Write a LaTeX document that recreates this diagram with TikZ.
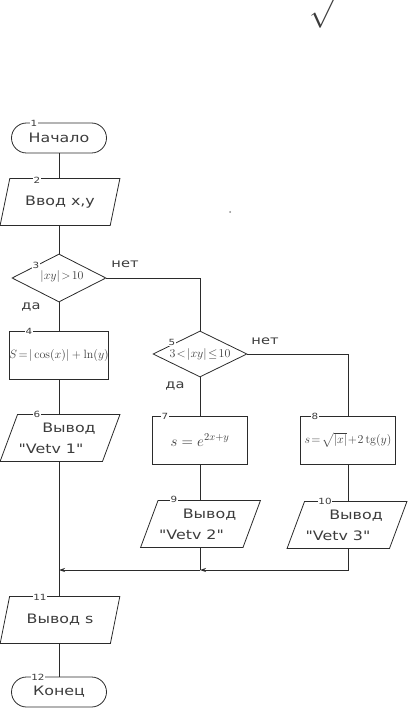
\RequirePackage{fix-cm}
\documentclass[tikz,border=0pt]{standalone}
\usepackage[no-math]{fontspec}
\setmainfont[FakeStretch=1.22,Ligatures=TeXOff]{DejaVu Sans}
\usepackage{amsmath}
\usetikzlibrary{arrows.meta,shapes.geometric}
\definecolor{linia}{HTML}{2B2B2B}
\definecolor{tekst}{HTML}{3C3C3C}

\begin{document}
\begin{tikzpicture}[x=1pt,y=-1pt,
    every node/.style={text=tekst},
    lin/.style={draw=linia,line width=0.8pt},
    term/.style={lin,rectangle,rounded corners=15pt,minimum width=95pt,minimum height=30pt,inner sep=0pt,font=\fontsize{13}{15}\selectfont},
    vvod/.style={lin,trapezium,trapezium left angle=61,trapezium right angle=119,trapezium stretches=true,minimum width=120pt,minimum height=47pt,inner sep=0pt,align=center,font=\fontsize{13}{21}\selectfont},
    blok/.style={lin,rectangle,minimum width=95pt,minimum height=48pt,inner sep=0pt},
    uslovie/.style={lin,diamond,aspect=2,minimum width=94pt,minimum height=48pt,inner sep=0pt,font=\fontsize{12}{14}\selectfont},
    num/.style={fill=white,inner sep=0.5pt,font=\fontsize{8.5}{9}\selectfont},
    otv/.style={font=\fontsize{12}{14}\selectfont},
    strelka/.style={lin,-{Stealth[length=6pt,width=4pt]}}]
  \useasboundingbox (0,0) rectangle (414,711);
  % остатки сверху
  \node[anchor=north west,inner sep=0pt,font=\fontsize{30}{30}\selectfont] (koren) at (309,-3) {$\sqrt{\hphantom{x}}$};
  \fill[tekst!60] (230,212) circle (1);
  % блоки
  \node[term] (n1) at (59,138) {Начало};
  \node[vvod] (n2) at (60,202) {Ввод x,y};
  \node[uslovie] (n3) at (59,278) {\hspace*{6pt}$|xy|\!>\!10$\raisebox{-6pt}{}};
  \node[blok,font=\fontsize{12}{14}\selectfont] (n4) at (59,355) {$S\!=\!|\cos(x)|+\ln(y)$};
  \node[uslovie,minimum height=46pt] (n5) at (200,354) {$3\!<\!|xy|\!\le\!10$};
  \node[vvod] (n6) at (60,438) {\hspace*{18pt}Вывод\\"Vetv 1"\hspace*{18pt}};
  \node[blok,font=\fontsize{15}{17}\selectfont] (n7) at (200,440) {$s=e^{2x+y}$};
  \node[blok,font=\fontsize{12}{14}\selectfont] (n8) at (348,440) {$s\!=\!\sqrt{|x|}\!+\!2\,\mathrm{tg}(y)$};
  \node[vvod] (n9) at (200.5,524) {\hspace*{18pt}Вывод\\"Vetv 2"\hspace*{18pt}};
  \node[vvod] (n10) at (347,525) {\hspace*{18pt}Вывод\\"Vetv 3"\hspace*{18pt}};
  \node[vvod] (n11) at (60,620) {Вывод s};
  \node[term] (n12) at (59,692) {Конец};
  % да / нет
  \node[otv] (net1) at (125,264) {нет};
  \node[otv] (da1) at (31,307) {да};
  \node[otv] (net2) at (265,341) {нет};
  \node[otv] (da2) at (175,386) {да};
  % связи
  \draw[lin] (n1.south) -- (n1.south |- n2.north);
  \draw[lin] (n1.south |- n2.south) -- (n3.north);
  \draw[lin] (n3.south) -- (n4.north);
  \draw[lin] (n3.east) -| (n5.north);
  \draw[lin] (n4.south) -- (n4.south |- n6.north);
  \draw[lin] (n4.south |- n6.south) -- (n4.south |- n11.north);
  \draw[lin] (n5.south) -- (n7.north);
  \draw[lin] (n5.east) -| (n8.north);
  \draw[lin] (n7.south) -- (n7.south |- n9.north);
  \draw[lin] (n8.south) -- (n8.south |- n10.north);
  \coordinate (m1) at (59,570);
  \coordinate (m2) at (200,570);
  \draw[lin] (n7.south |- n9.south) -- (m2);
  \draw[strelka] (n8.south |- n10.south) |- (m2);
  \draw[strelka] (m2) -- (m1);
  \draw[lin] (n4.south |- n11.south) -- (n12.north);
  % номера блоков
  \foreach \n/\x/\y in {1/34/123, 2/37/180, 3/36/265, 4/29/331, 5/172/342, 6/37/414, 7/165/416, 8/315/416, 9/174/499, 10/325/501, 11/40/597, 12/38/677}
    \node[num] (k\n) at (\x,\y) {\n};
\end{tikzpicture}
\end{document}
